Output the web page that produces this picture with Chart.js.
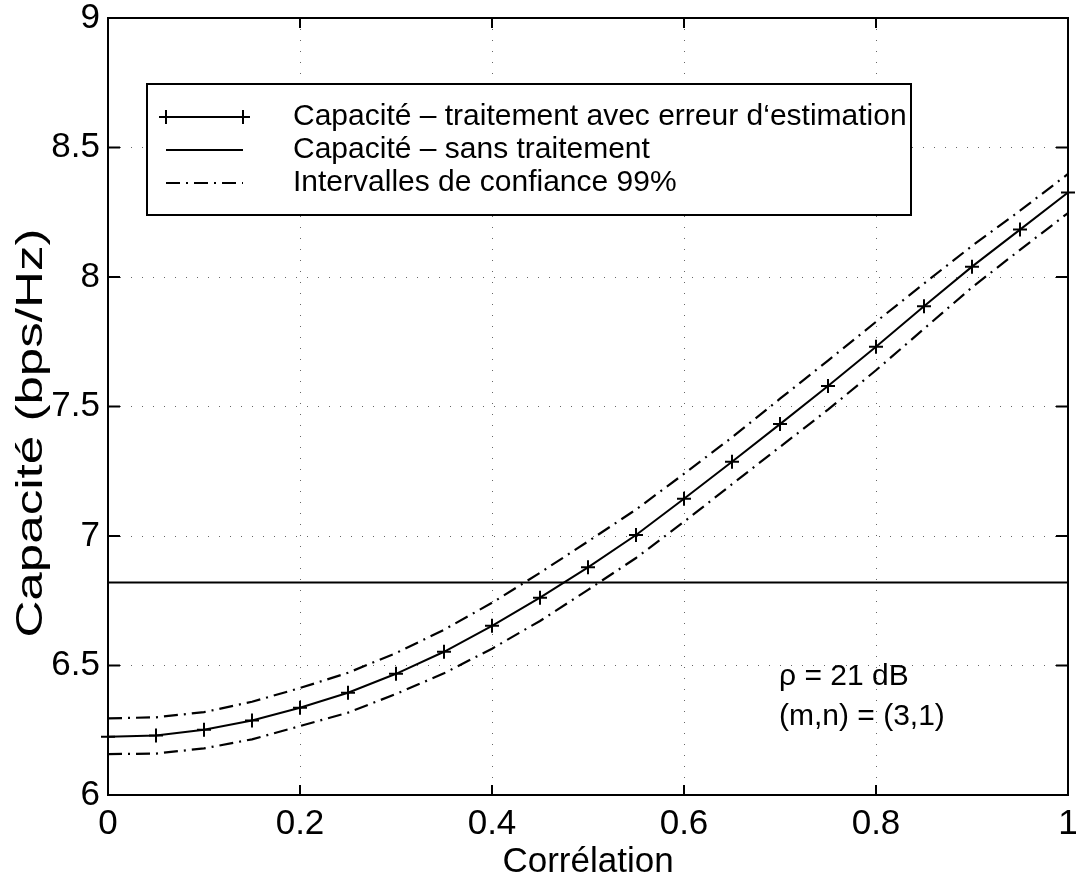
<!DOCTYPE html>
<html>
<head>
<meta charset="utf-8">
<script src="https://cdn.jsdelivr.net/npm/chart.js@4.4.1/dist/chart.umd.min.js"></script>
<style>
  html, body { margin: 0; padding: 0; background: #fff; }
  #wrap { width: 1076px; height: 884px; }
</style>
</head>
<body>
<div id="wrap"><canvas id="capacity_chart" width="1076" height="884"></canvas></div>
<script>
// values
const correlation = [0, 0.05, 0.1, 0.15, 0.2, 0.25, 0.3, 0.35, 0.4, 0.45, 0.5,
                     0.55, 0.6, 0.65, 0.7, 0.75, 0.8, 0.85, 0.9, 0.95, 1];
const capaciteEstimation = [6.225, 6.23, 6.252, 6.288, 6.337, 6.395, 6.468, 6.553, 6.653, 6.762, 6.879,
                            7.004, 7.144, 7.287, 7.432, 7.579, 7.731, 7.887, 8.040, 8.183, 8.326];
const intervalleHaut = [6.296, 6.300, 6.320, 6.360, 6.413, 6.472, 6.548, 6.638, 6.742, 6.858, 6.979,
                        7.102, 7.240, 7.381, 7.530, 7.677, 7.827, 7.975, 8.120, 8.256, 8.398];
const intervalleBas = [6.158, 6.160, 6.180, 6.215, 6.266, 6.318, 6.390, 6.470, 6.565, 6.672, 6.792,
                       6.915, 7.055, 7.200, 7.344, 7.488, 7.640, 7.800, 7.960, 8.105, 8.247];
const sansTraitementX = [0, 1];
const sansTraitementY = [6.82, 6.82];

const xTicks = [0, 0.2, 0.4, 0.6, 0.8, 1];
const yTicks = [6, 6.5, 7, 7.5, 8, 8.5, 9];

const legendLabels = [
  'Capacité – traitement avec erreur d‘estimation',
  'Capacité – sans traitement',
  'Intervalles de confiance 99%'
];
const noteLines = ['ρ = 21 dB', '(m,n) = (3,1)'];
const yTitle = 'Capacité (bps/Hz)';

const FONT = '"Liberation Sans", Arial, Helvetica, sans-serif';
const DASH_DOT = [14, 6, 2, 6];

Chart.defaults.font.family = FONT;
Chart.defaults.color = '#000';

function toPoints(xs, ys) {
  return xs.map((x, i) => ({ x: x, y: ys[i] }));
}

// inner tick marks + frame on all four sides
const frameTicks = {
  id: 'frameTicks',
  afterDraw(chart) {
    const { ctx, chartArea: a, scales } = chart;
    ctx.save();
    ctx.strokeStyle = '#000';
    ctx.lineWidth = 2;
    ctx.strokeRect(a.left, a.top, a.right - a.left, a.bottom - a.top);
    ctx.beginPath();
    xTicks.forEach(v => {
      const px = scales.x.getPixelForValue(v);
      ctx.moveTo(px, a.bottom); ctx.lineTo(px, a.bottom - 10);
      ctx.moveTo(px, a.top); ctx.lineTo(px, a.top + 10);
    });
    yTicks.forEach(v => {
      const py = scales.y.getPixelForValue(v);
      ctx.moveTo(a.left, py); ctx.lineTo(a.left + 12, py);
      ctx.moveTo(a.right, py); ctx.lineTo(a.right - 12, py);
    });
    ctx.stroke();
    ctx.restore();
  }
};

// boxed legend, the note in the lower right, and the (stretched) y title
const boxLegend = {
  id: 'boxLegend',
  afterDraw(chart) {
    const { ctx, chartArea: a } = chart;
    ctx.save();
    ctx.fillStyle = '#fff';
    ctx.fillRect(147, 84, 764, 131);
    ctx.strokeStyle = '#000';
    ctx.lineWidth = 2;
    ctx.strokeRect(147, 84, 764, 131);

    const rows = [117, 150, 183];
    // row 1 : line with + markers
    ctx.beginPath();
    ctx.moveTo(159, rows[0]); ctx.lineTo(248, rows[0]);
    [166, 243].forEach(x => {
      ctx.moveTo(x - 7, rows[0]); ctx.lineTo(x + 7, rows[0]);
      ctx.moveTo(x, rows[0] - 7); ctx.lineTo(x, rows[0] + 7);
    });
    ctx.stroke();
    // row 2 : plain line
    ctx.beginPath();
    ctx.moveTo(166, rows[1]); ctx.lineTo(243, rows[1]);
    ctx.stroke();
    // row 3 : dash-dot
    ctx.setLineDash(DASH_DOT);
    ctx.beginPath();
    ctx.moveTo(166, rows[2]); ctx.lineTo(243, rows[2]);
    ctx.stroke();
    ctx.setLineDash([]);

    ctx.fillStyle = '#000';
    ctx.font = '30px ' + FONT;
    ctx.textBaseline = 'middle';
    ctx.textAlign = 'left';
    legendLabels.forEach((t, i) => ctx.fillText(t, 293, rows[i]));
    noteLines.forEach((t, i) => ctx.fillText(t, 779, 677 + i * 40));

    // y axis title: rotated, drawn longer than wide like the printed original
    ctx.translate(32, 433);
    ctx.rotate(-Math.PI / 2);
    ctx.scale(1.42, 1);
    ctx.font = '36px ' + FONT;
    ctx.textAlign = 'center';
    ctx.fillText(yTitle, 0, 0);
    ctx.restore();
  }
};

const ctx = document.getElementById('capacity_chart').getContext('2d');
new Chart(ctx, {
  type: 'line',
  data: {
    datasets: [
      {
        label: legendLabels[0],
        data: toPoints(correlation, capaciteEstimation),
        borderColor: '#000',
        borderWidth: 2,
        pointStyle: 'cross',
        pointRadius: 7,
        pointBorderWidth: 2,
        pointBorderColor: '#000',
        tension: 0
      },
      {
        label: legendLabels[1],
        data: toPoints(sansTraitementX, sansTraitementY),
        borderColor: '#000',
        borderWidth: 2,
        pointRadius: 0,
        tension: 0
      },
      {
        label: legendLabels[2],
        data: toPoints(correlation, intervalleHaut),
        borderColor: '#000',
        borderWidth: 2.2,
        borderDash: DASH_DOT,
        pointRadius: 0,
        tension: 0
      },
      {
        label: legendLabels[2] + ' (bas)',
        data: toPoints(correlation, intervalleBas),
        borderColor: '#000',
        borderWidth: 2.2,
        borderDash: DASH_DOT,
        pointRadius: 0,
        tension: 0
      }
    ]
  },
  options: {
    responsive: false,
    animation: false,
    devicePixelRatio: 1,
    clip: false,
    layout: { autoPadding: false, padding: { top: 18, right: 8, left: 0, bottom: 0 } },
    plugins: { legend: { display: false }, tooltip: { enabled: false } },
    scales: {
      x: {
        type: 'linear',
        min: 0, max: 1,
        afterFit(scale) {
          scale.height = 89;
          scale.paddingLeft = 0; scale.paddingRight = 0;
        },
        afterBuildTicks(scale) { scale.ticks = xTicks.map(v => ({ value: v })); },
        ticks: { font: { size: 35 }, padding: 8, maxRotation: 0, autoSkip: false,
                 callback: v => String(v) },
        grid: { color: '#666', lineWidth: 1, drawTicks: false },
        border: { display: true, color: '#000', width: 2, dash: [1, 10] },
        title: { display: true, text: 'Corrélation', font: { size: 35 }, padding: { top: 0, bottom: 1 } }
      },
      y: {
        type: 'linear',
        min: 6, max: 9,
        afterFit(scale) {
          scale.width = 108;
          scale.paddingTop = 0; scale.paddingBottom = 0;
        },
        afterBuildTicks(scale) { scale.ticks = yTicks.map(v => ({ value: v })); },
        ticks: { font: { size: 35 }, padding: 8, autoSkip: false,
                 callback: v => String(v) },
        grid: { color: '#666', lineWidth: 1, drawTicks: false },
        border: { display: true, color: '#000', width: 2, dash: [1, 10] },
        title: { display: false }
      }
    }
  },
  plugins: [frameTicks, boxLegend]
});
</script>
</body>
</html>
